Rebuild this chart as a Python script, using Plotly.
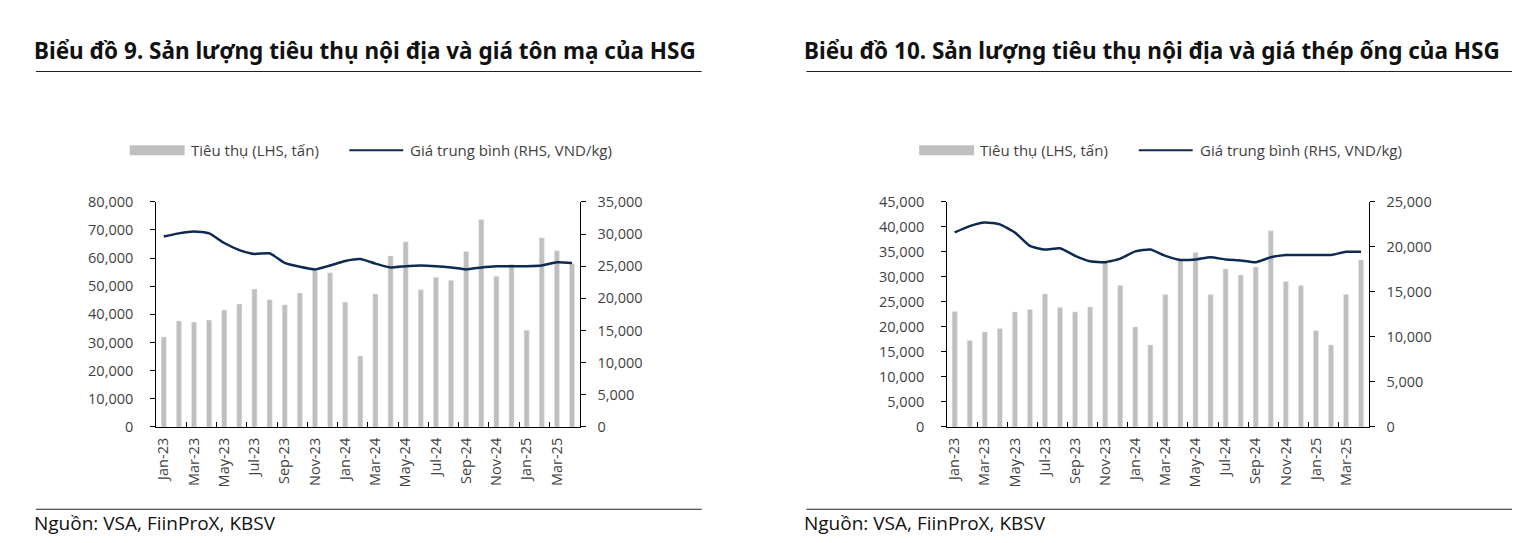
import plotly.graph_objects as go
from plotly.subplots import make_subplots

months = ["Jan-23", "Feb-23", "Mar-23", "Apr-23", "May-23", "Jun-23", "Jul-23", "Aug-23",
          "Sep-23", "Oct-23", "Nov-23", "Dec-23", "Jan-24", "Feb-24", "Mar-24", "Apr-24",
          "May-24", "Jun-24", "Jul-24", "Aug-24", "Sep-24", "Oct-24", "Nov-24", "Dec-24",
          "Jan-25", "Feb-25", "Mar-25", "Apr-25"]

# Chart 9: galvanized sheet (tôn mạ)
ton_volume = [32000, 37700, 37300, 38000, 41600, 43700, 49000, 45200, 43400, 47600, 55800, 54800,
              44400, 25200, 47300, 60800, 65800, 48800, 53200, 52100, 62400, 73700, 53600, 57800,
              34400, 67200, 62600, 58100]
ton_price = [29600, 30100, 30400, 30100, 28600, 27500, 26900, 27000, 25500, 24900, 24500, 25100,
             25800, 26100, 25400, 24800, 25000, 25100, 25000, 24800, 24500, 24800, 25000, 25000,
             25000, 25100, 25600, 25500]

# Chart 10: steel pipe (thép ống)
ong_volume = [23100, 17300, 19000, 19700, 23000, 23500, 26600, 23900, 23000, 24000, 33000, 28300,
              20000, 16400, 26500, 33300, 34900, 26500, 31600, 30400, 32000, 39200, 29100, 28300,
              19300, 16400, 26500, 33400]
ong_price = [21600, 22300, 22700, 22500, 21600, 20100, 19700, 19850, 19000, 18400, 18300, 18700,
             19500, 19700, 19000, 18550, 18600, 18850, 18600, 18500, 18300, 18850, 19100, 19100,
             19100, 19100, 19450, 19450]

titles = ["Biểu đồ 9. Sản lượng tiêu thụ nội địa và giá tôn mạ của HSG",
          "Biểu đồ 10. Sản lượng tiêu thụ nội địa và giá thép ống của HSG"]
legend_names = ["Tiêu thụ (LHS, tấn)", "Giá trung bình (RHS, VND/kg)"]
source_text = "Nguồn: VSA, FiinProX, KBSV"

W = 1527
BAR = "#BFBFBF"
LINE = "#0D2B52"
TXT = "#3F3F3F"
FONT = "Open Sans"

# screen-position helpers (target picture pixels -> paper fractions)
Y_OFF, Y_SPAN = 10.2, 522.5

def px(x):
    return x / W

def py(y):
    return 1 - (y - Y_OFF) / Y_SPAN

fig = make_subplots(rows=1, cols=2, specs=[[{"secondary_y": True}, {"secondary_y": True}]])

for col, (vol, price) in enumerate([(ton_volume, ton_price), (ong_volume, ong_price)], start=1):
    fig.add_trace(go.Bar(x=months, y=vol, marker_color=BAR, name=legend_names[0],
                         showlegend=False), row=1, col=col, secondary_y=False)
    fig.add_trace(go.Scatter(x=months, y=price, mode="lines", name=legend_names[1],
                             line=dict(color=LINE, width=2.5, shape="spline", smoothing=0.5),
                             showlegend=False), row=1, col=col, secondary_y=True)

ydom = [py(426), py(201.5)]
xdoms = [[px(153.5), px(577.7)], [px(946), px(1368.3)]]
left_ranges = [[0, 80000], [0, 45000]]
left_dticks = [10000, 5000]
right_ranges = [[0, 35000], [0, 25000]]

tickfont = dict(family=FONT, size=14.5, color=TXT)
for i in range(2):
    xa = "xaxis" if i == 0 else "xaxis2"
    fig.layout[xa].update(domain=xdoms[i], type="category", range=[-0.5, 27.5],
                          tickmode="linear", tick0=0, dtick=2, tickson="boundaries",
                          ticks="inside", ticklen=5, tickcolor="black",
                          showline=True, linecolor="black", linewidth=1,
                          showgrid=False, tickangle=-90, tickfont=tickfont,
                          ticklabelstandoff=4)
    ya = "yaxis" if i == 0 else "yaxis3"
    yb = "yaxis2" if i == 0 else "yaxis4"
    fig.layout[ya].update(domain=ydom, range=left_ranges[i], dtick=left_dticks[i],
                          tickformat=",", showgrid=False, zeroline=False,
                          showline=True, linecolor="black", linewidth=1,
                          ticks="outside", ticklen=5, tickcolor="black",
                          tickfont=tickfont, ticklabelstandoff=14)
    fig.layout[yb].update(domain=ydom, range=right_ranges[i], dtick=5000,
                          tickformat=",", showgrid=False, zeroline=False,
                          showline=True, linecolor="black", linewidth=1,
                          ticks="outside", ticklen=5, tickcolor="black",
                          tickfont=tickfont, ticklabelstandoff=9)

# Titles, rules, legends and sources for each panel
panels = [dict(x0=33, x1=700, tx=33, lg=127), dict(x0=805, x1=1512, tx=805, lg=918)]
shapes = []
annotations = []
for i, p in enumerate(panels):
    annotations.append(dict(text="<b>" + titles[i] + "</b>", x=px(p["tx"] - 4), y=py(51),
                            xref="paper", yref="paper", xanchor="left", yanchor="middle",
                            showarrow=False, font=dict(family="Noto Sans", size=22.5, color="#111111")))
    shapes.append(dict(type="line", xref="paper", yref="paper", x0=px(p["x0"]), x1=px(p["x1"]),
                       y0=py(71.5), y1=py(71.5), line=dict(color="#222222", width=1.2)))
    shapes.append(dict(type="line", xref="paper", yref="paper", x0=px(p["x0"]), x1=px(p["x1"]),
                       y0=py(508), y1=py(508), line=dict(color="#222222", width=1.2)))
    annotations.append(dict(text=source_text, x=px(p["tx"] - 4), y=py(522),
                            xref="paper", yref="paper", xanchor="left", yanchor="middle",
                            showarrow=False, font=dict(family=FONT, size=19, color="#111111")))
    lg = p["lg"]
    shapes.append(dict(type="rect", xref="paper", yref="paper", x0=px(lg), x1=px(lg + 55),
                       y0=py(155), y1=py(145), fillcolor=BAR, line=dict(width=0)))
    annotations.append(dict(text=legend_names[0], x=px(lg + 59), y=py(150),
                            xref="paper", yref="paper", xanchor="left", yanchor="middle",
                            showarrow=False, font=dict(family=FONT, size=15, color=TXT)))
    shapes.append(dict(type="line", xref="paper", yref="paper", x0=px(lg + 220), x1=px(lg + 274),
                       y0=py(150), y1=py(150), line=dict(color=LINE, width=2)))
    annotations.append(dict(text=legend_names[1], x=px(lg + 279), y=py(150),
                            xref="paper", yref="paper", xanchor="left", yanchor="middle",
                            showarrow=False, font=dict(family=FONT, size=15, color=TXT)))

fig.update_layout(autosize=True, margin=dict(l=0, r=0, t=0, b=0),
                  paper_bgcolor="white", plot_bgcolor="white",
                  bargap=0.66, showlegend=False, shapes=shapes, annotations=annotations,
                  font=dict(family=FONT, color=TXT))

fig.write_html("out.html",
               config={"displayModeBar": False, "responsive": True},
               default_width="100vw", default_height="100vh",
               post_script="document.documentElement.style.margin='0';"
                           "document.body.style.margin='0';"
                           "document.documentElement.style.overflow='hidden';"
                           "document.body.style.overflow='hidden';"
                           "Plotly.Plots.resize(document.getElementById('{plot_id}'));")
